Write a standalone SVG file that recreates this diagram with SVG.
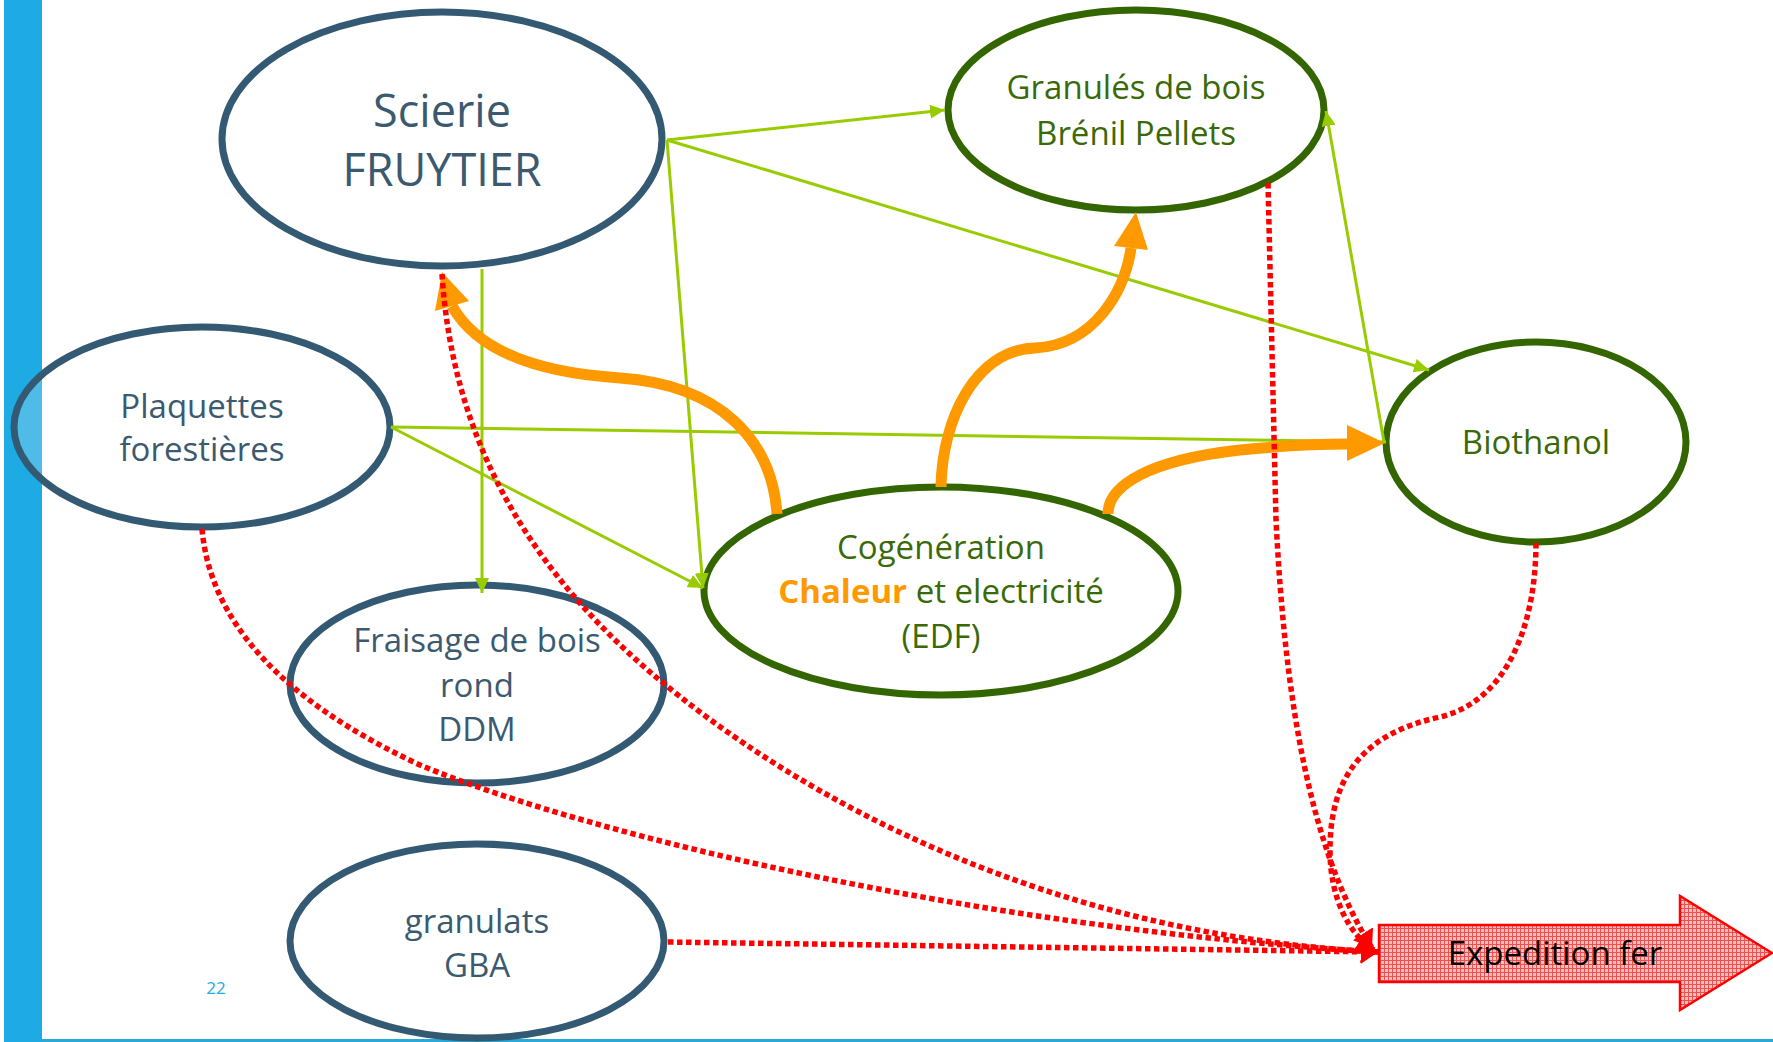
<svg xmlns="http://www.w3.org/2000/svg" width="1773" height="1042" viewBox="0 0 1773 1042">
<defs>
<style>
.blue{fill:#ffffff;fill-opacity:0.22;stroke:#345a73;stroke-width:7}
.green{fill:#ffffff;fill-opacity:0.22;stroke:#336600;stroke-width:7}
.tb{font-family:"Open Sans","Noto Sans",sans-serif;font-size:33px;fill:#3b5a70;text-anchor:middle}
.big{font-size:45px}
.tg{font-family:"Open Sans","Noto Sans",sans-serif;font-size:33px;fill:#3a6a08;text-anchor:middle}
.lg{fill:none;stroke:#99cc00;stroke-width:3}
.or{fill:none;stroke:#ff9900;stroke-width:11}
.rd{fill:none;stroke:#ff0000;stroke-width:5.5;stroke-dasharray:5.5 3.5}
</style>
<marker id="ga" markerUnits="userSpaceOnUse" markerWidth="16" markerHeight="14" refX="15" refY="7" orient="auto">
<path d="M0,0 L15,7 L0,14 z" fill="#99cc00"/>
</marker>
<marker id="ra" markerUnits="userSpaceOnUse" markerWidth="18" markerHeight="24" refX="17" refY="12" orient="auto">
<path d="M0,0 L17,12 L0,24 z" fill="#ff0000"/>
</marker>
<pattern id="hatch" width="4" height="4" patternUnits="userSpaceOnUse">
<rect width="4" height="4" fill="#f9c0c0"/>
<path d="M0,0.5 H4 M0.5,0 V4" stroke="#ee5050" stroke-width="1"/>
</pattern>
</defs>
<rect x="0" y="0" width="1773" height="1042" fill="#ffffff"/>
<rect x="4" y="0" width="38" height="1042" fill="#1eaae2"/>
<rect x="42" y="1039" width="1731" height="3" fill="#2aa8d8"/>
<text x="216" y="994" font-family="Open Sans, sans-serif" font-size="17" fill="#1eaae2" text-anchor="middle">22</text>

<g id="scierie">
<ellipse class="blue" cx="442" cy="139" rx="220" ry="127"/>
<text class="tb big" x="442" y="127">Scierie</text>
<text class="tb big" x="442" y="186">FRUYTIER</text>
</g>
<g id="plaquettes">
<ellipse class="blue" cx="202" cy="427" rx="188" ry="100"/>
<text class="tb" x="202" y="418">Plaquettes</text>
<text class="tb" x="202" y="461">forestières</text>
</g>
<g id="fraisage">
<ellipse class="blue" cx="477" cy="684" rx="187" ry="99"/>
<text class="tb" x="477" y="652">Fraisage de bois</text>
<text class="tb" x="477" y="697">rond</text>
<text class="tb" x="477" y="741">DDM</text>
</g>
<g id="granulats">
<ellipse class="blue" cx="477" cy="941" rx="187" ry="97"/>
<text class="tb" x="477" y="933">granulats</text>
<text class="tb" x="477" y="977">GBA</text>
</g>
<g id="granules">
<ellipse class="green" cx="1136" cy="110" rx="188" ry="100"/>
<text class="tg" x="1136" y="99">Granulés de bois</text>
<text class="tg" x="1136" y="145">Brénil Pellets</text>
</g>
<g id="cogeneration">
<ellipse class="green" cx="941" cy="591" rx="237" ry="104"/>
<text class="tg" x="941" y="559">Cogénération</text>
<text class="tg" x="941" y="603"><tspan fill="#ff9900" font-weight="bold">Chaleur</tspan> et electricité</text>
<text class="tg" x="941" y="648">(EDF)</text>
</g>
<g id="biothanol">
<ellipse class="green" cx="1536" cy="442" rx="150" ry="100"/>
<text class="tg" x="1536" y="454">Biothanol</text>
</g>
<g id="expedition">
<polygon points="1379,925 1680,925 1680,896 1772,953 1680,1010 1680,982 1379,982" fill="url(#hatch)" stroke="#ff0000" stroke-width="2.5"/>
<text x="1555" y="965" font-family="Open Sans, sans-serif" font-size="33" fill="#000000" text-anchor="middle">Expedition fer</text>
</g>

<g id="connectors">
<line class="lg" x1="667" y1="140" x2="945" y2="110" marker-end="url(#ga)"/>
<line class="lg" x1="667" y1="140" x2="1429" y2="370" marker-end="url(#ga)"/>
<line class="lg" x1="667" y1="140" x2="703" y2="588" marker-end="url(#ga)"/>
<line class="lg" x1="482" y1="269" x2="482" y2="593" marker-end="url(#ga)"/>
<line class="lg" x1="391" y1="427" x2="1386" y2="442"/>
<line class="lg" x1="391" y1="427" x2="703" y2="588" marker-end="url(#ga)"/>
<line class="lg" x1="1384" y1="442" x2="1326" y2="111" marker-end="url(#ga)"/>

<path class="or" d="M777,514 C772,440 720,385 620,378 C540,373 478,352 452,306"/>
<polygon points="442,272 469,301 435,311" fill="#ff9900"/>
<path class="or" d="M941,487 C942,420 975,350 1035,348 C1095,345 1125,290 1131,248"/>
<polygon points="1136,212 1148,250 1114,246" fill="#ff9900"/>
<path class="or" d="M1108,514 C1108,485 1150,460 1240,450 C1280,446 1320,444 1348,444" stroke-width="13"/>
<polygon points="1385,443 1347,425 1347,461" fill="#ff9900"/>

<path class="rd" d="M442,274 C452,430 520,560 650,672 C800,800 1050,935 1378,952" marker-end="url(#ra)"/>
<path class="rd" d="M202,529 C210,620 280,700 420,765 C600,840 1000,930 1378,952" marker-end="url(#ra)"/>
<path class="rd" d="M668,942 L1378,952" marker-end="url(#ra)"/>
<path class="rd" d="M1268,183 L1276,520 C1285,700 1310,850 1372,948" marker-end="url(#ra)"/>
<path class="rd" d="M1536,543 C1536,620 1510,700 1440,717 C1370,732 1330,770 1330,850 C1330,900 1350,935 1374,950" marker-end="url(#ra)"/>
</g>
</svg>
